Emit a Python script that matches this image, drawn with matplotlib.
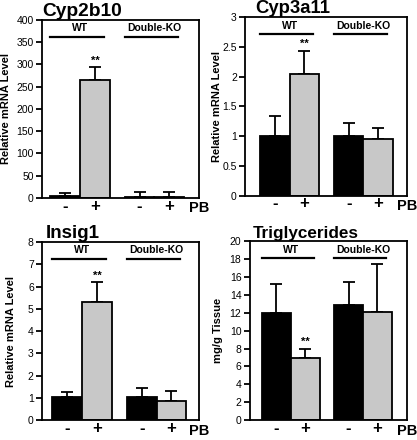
import matplotlib
matplotlib.use("Agg")
import matplotlib.pyplot as plt

plt.rcParams['font.family'] = ['Liberation Sans', 'DejaVu Sans']

# bar order: WT -, WT +, Double-KO -, Double-KO +
titles = ["Cyp2b10", "Cyp3a11", "Insig1", "Triglycerides"]
ylabels = ["Relative mRNA Level", "Relative mRNA Level", "Relative mRNA Level", "mg/g Tissue"]
means = [
    [5, 265, 3, 3],
    [1.0, 2.04, 1.0, 0.95],
    [1.02, 5.3, 1.05, 0.85],
    [12.0, 6.9, 12.9, 12.1],
]
errors = [
    [6, 28, 11, 11],
    [0.34, 0.40, 0.22, 0.19],
    [0.23, 0.9, 0.4, 0.45],
    [3.2, 1.1, 2.5, 5.3],
]
yticks = [
    [0, 50, 100, 150, 200, 250, 300, 350, 400],
    [0, 0.5, 1, 1.5, 2, 2.5, 3],
    [0, 1, 2, 3, 4, 5, 6, 7, 8],
    [0, 2, 4, 6, 8, 10, 12, 14, 16, 18, 20],
]
yticklabels = [
    ["0", "50", "100", "150", "200", "250", "300", "350", "400"],
    ["0", "0.5", "1", "1.5", "2", "2.5", "3"],
    ["0", "1", "2", "3", "4", "5", "6", "7", "8"],
    ["0", "2", "4", "6", "8", "10", "12", "14", "16", "18", "20"],
]
treatment = ["-", "+", "-", "+"]
groups = ["WT", "Double-KO"]
starred = 1  # WT + bar carries the significance mark

xpos = [0, 1, 2.5, 3.5]
group_centers = [0.5, 3.0]
colors = ["black", "#c8c8c8", "black", "#c8c8c8"]

# axes boxes in figure fractions: left, bottom, width, height
boxes = [
    [0.101, 0.550, 0.376, 0.405],
    [0.588, 0.555, 0.388, 0.406],
    [0.101, 0.045, 0.376, 0.405],
    [0.599, 0.045, 0.377, 0.407],
]
xlims = [(-0.77, 4.49), (-1.01, 4.48), (-0.84, 4.42), (-0.91, 4.52)]
title_x = [0.0, 0.06, 0.02, 0.02]
title_size = [13.8, 13.3, 13.5, 12.3]
ylabel_x = [-0.2, -0.145, -0.166, -0.17]

fig = plt.figure(figsize=(4.17, 4.4), dpi=100)

for i in range(4):
    ax = fig.add_axes(boxes[i])
    ax.bar(xpos, means[i], width=1.0, color=colors, edgecolor="black",
           linewidth=1.3, zorder=2)
    ax.errorbar(xpos, means[i], yerr=[[0] * 4, errors[i]], fmt="none",
                ecolor="black", elinewidth=1.3, capsize=4, capthick=1.3,
                zorder=1)
    ax.set_xlim(*xlims[i])
    ax.set_ylim(yticks[i][0], yticks[i][-1])
    ax.set_yticks(yticks[i])
    ax.set_yticklabels(yticklabels[i])
    ax.set_xticks([])
    ax.tick_params(axis="y", direction="out", length=4, width=1.3, pad=2,
                   labelsize=7.5, labelcolor="black")
    for s in ax.spines.values():
        s.set_linewidth(1.3)
    ax.set_ylabel(ylabels[i], fontsize=8, fontweight="bold")
    ax.yaxis.set_label_coords(ylabel_x[i], 0.5)
    ax.set_title(titles[i], fontsize=title_size[i], fontweight="bold",
                 loc="left", pad=1, x=title_x[i])

    # group bars and labels
    for c, g in zip(group_centers, groups):
        ax.plot([c - 1.0, c + 0.8], [0.905, 0.905], color="black", lw=1.6,
                transform=ax.get_xaxis_transform(), clip_on=False)
        ax.text(c, 0.925, g, fontsize=7.5, fontweight="bold", ha="center",
                va="bottom", transform=ax.get_xaxis_transform())

    # significance mark
    top = means[i][starred] + errors[i][starred]
    ax.annotate("**", (xpos[starred], top), xytext=(0, 1),
                textcoords="offset points", ha="center", va="bottom",
                fontsize=8, fontweight="bold")

    # treatment labels under the axis
    for x, t in zip(xpos, treatment):
        ax.annotate(t, (x, 0), xycoords=("data", "axes fraction"),
                    xytext=(0, -0.5), textcoords="offset points", ha="center",
                    va="top", fontsize=12, fontweight="bold")
    ax.annotate("PB", (1.0, 0), xycoords="axes fraction", xytext=(0, -2.5),
                textcoords="offset points", ha="center", va="top",
                fontsize=10.5, fontweight="bold", annotation_clip=False)

fig.savefig("out.png", dpi=100)
